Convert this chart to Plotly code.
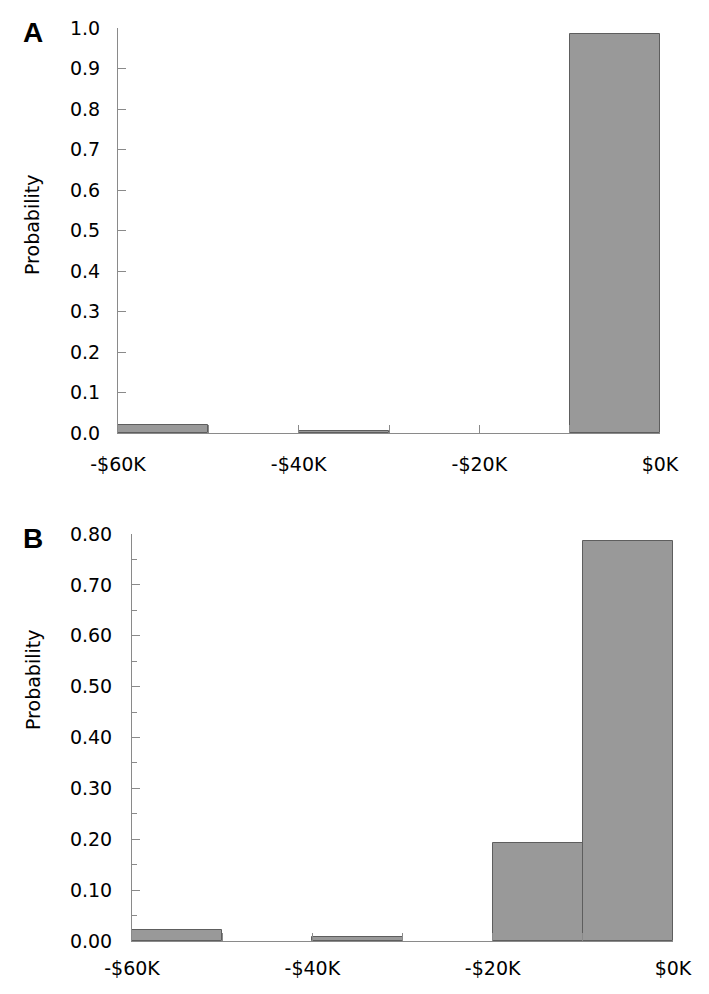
import plotly.graph_objects as go
from plotly.subplots import make_subplots

# Histogram bins ($, bin centres, width 10K)
bin_centers = [-55000, -35000, -15000, -5000]
bin_width = 10000

# Probabilities
prob_a = [0.020, 0.004, 0.0, 0.985]
prob_b = [0.021, 0.0085, 0.193, 0.786]

x_tickvals = [-60000, -40000, -20000, 0]
x_ticktext = ["-$60K", "-$40K", "-$20K", "$0K"]

W, H = 709, 994
OFF = 8  # page body margin
FONT = "DejaVu Sans"
AXIS_GREY = "#8a8a8a"


def px_x(p):
    return (p - OFF) / W


def px_y(p):
    return (H - (p - OFF)) / H


fig = make_subplots(rows=2, cols=1)

for i, probs in enumerate([prob_a, prob_b], start=1):
    # empty bins are not drawn
    xs = [c for c, v in zip(bin_centers, probs) if v > 0]
    ys = [v for v in probs if v > 0]
    fig.add_trace(
        go.Bar(
            x=xs,
            y=ys,
            width=bin_width,
            marker=dict(color="#999999", line=dict(color="#5e5e5e", width=1)),
            showlegend=False,
        ),
        row=i, col=1
    )

# pixel boxes of the two panels
fig.update_layout(
    xaxis=dict(domain=[px_x(118), px_x(660)]),
    yaxis=dict(domain=[px_y(433), px_y(28)]),
    xaxis2=dict(domain=[px_x(132), px_x(673)]),
    yaxis2=dict(domain=[px_y(941), px_y(534)]),
)

common_x = dict(
    range=[-60000, 0],
    tickvals=x_tickvals,
    ticktext=x_ticktext,
    ticks="inside",
    ticklen=8,
    tickcolor=AXIS_GREY,
    showline=True,
    linecolor=AXIS_GREY,
    linewidth=1,
    showgrid=False,
    zeroline=False,
    automargin=False,
    minor=dict(dtick=10000, ticks="inside", ticklen=8, tickcolor=AXIS_GREY, showgrid=False),
    tickfont=dict(family=FONT, size=19, color="black"),
)
fig.update_xaxes(**common_x, ticklabelstandoff=14, row=1, col=1)
fig.update_xaxes(**common_x, ticklabelstandoff=10, row=2, col=1)

common_y = dict(
    ticks="inside",
    ticklen=8,
    tickcolor=AXIS_GREY,
    showline=True,
    linecolor=AXIS_GREY,
    linewidth=1,
    showgrid=False,
    zeroline=False,
    automargin=False,
    tickfont=dict(family=FONT, size=19, color="black"),
)
fig.update_yaxes(**common_y, range=[0, 1.0], dtick=0.1, tickformat=".1f",
                 ticklabelstandoff=13, row=1, col=1)
fig.update_yaxes(**common_y, range=[0, 0.80], dtick=0.1, tickformat=".2f",
                 ticklabelstandoff=15,
                 minor=dict(dtick=0.05, ticks="inside", ticklen=5, tickcolor=AXIS_GREY, showgrid=False),
                 row=2, col=1)

annotations = [
    dict(text="<b>A</b>", x=px_x(33), y=px_y(32), font=dict(family="Liberation Sans", size=28)),
    dict(text="<b>B</b>", x=px_x(33), y=px_y(538), font=dict(family="Liberation Sans", size=28)),
    dict(text="Probability", x=px_x(32), y=px_y(225), textangle=-90,
         font=dict(family=FONT, size=19)),
    dict(text="Probability", x=px_x(33), y=px_y(680), textangle=-90,
         font=dict(family=FONT, size=19)),
]
for a in annotations:
    a.update(xref="paper", yref="paper", showarrow=False, xanchor="center", yanchor="middle")
    a["font"]["color"] = "black"

fig.update_layout(
    annotations=annotations,
    width=W,
    height=H,
    margin=dict(l=0, r=0, t=0, b=0),
    plot_bgcolor="white",
    paper_bgcolor="white",
    bargap=0,
)

fig.write_html("out.html")
